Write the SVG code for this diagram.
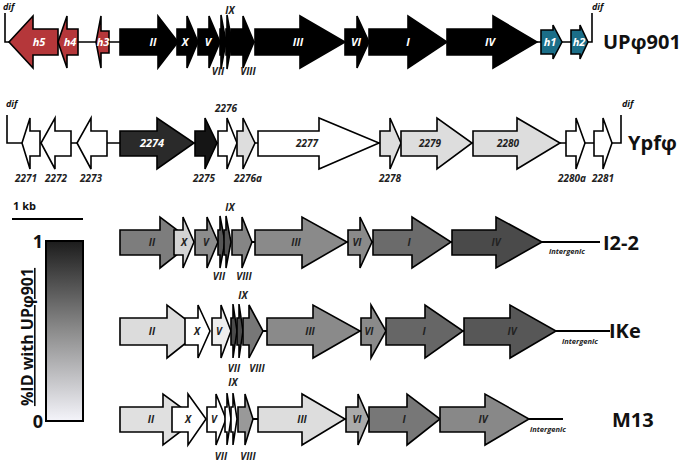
<svg xmlns="http://www.w3.org/2000/svg" width="680" height="463" viewBox="0 0 680 463">
<defs>
<linearGradient id="idgrad" x1="0" y1="0" x2="0" y2="1">
<stop offset="0" stop-color="#1c1c1c"/>
<stop offset="0.5" stop-color="#8c8c8c"/>
<stop offset="1" stop-color="#f4f4fa"/>
</linearGradient>
<style>
.g{stroke:#000;stroke-width:1.6;stroke-linejoin:miter}
.ln{stroke:#000;stroke-width:1.6;fill:none}
.ln2{stroke:#000;stroke-width:2;fill:none}
.lw{font-family:"Open Sans","Liberation Sans",sans-serif;font-weight:bold;font-style:italic;font-size:11px;fill:#fff;text-anchor:middle}
.ld{font-family:"Open Sans","Liberation Sans",sans-serif;font-weight:bold;font-style:italic;font-size:10px;fill:#222;text-anchor:middle}
.ls{font-family:"Open Sans","Liberation Sans",sans-serif;font-weight:bold;font-style:italic;font-size:7.5px;fill:#222}
.dif{font-family:"Open Sans","Liberation Sans",sans-serif;font-weight:bold;font-style:italic;font-size:9px;fill:#111}
.tt{font-family:"Open Sans","Liberation Sans",sans-serif;font-weight:bold;font-size:20px;fill:#111}
.red{fill:#b5373a}.blk{fill:#000}.teal{fill:#1b6e88}
</style>
</defs>
<rect width="680" height="463" fill="#fff"/>

<g id="connectors">
<polyline class="ln" points="5,13 5,42 592,42 592,13"/>
<polyline class="ln" points="7,115 7,143 621,143 621,115"/>
<line class="ln2" x1="248" y1="242" x2="600" y2="242"/>
<line class="ln2" x1="258" y1="331" x2="610" y2="331"/>
<line class="ln2" x1="250" y1="419" x2="563" y2="419"/>
</g>

<!-- UPphi901 -->
<g id="up-h5"><path class="g red" d="M58,29 L33,29 L33,16 L9,42 L33,68 L33,55 L58,55 Z"/><text class="lw" x="39" y="46">h5</text></g>
<g id="up-h4"><path class="g red" d="M78,29 L67,29 L67,16 L58,42 L67,68 L67,55 L78,55 Z"/><text class="lw" x="70" y="46">h4</text></g>
<g id="up-h3"><path class="g red" d="M109,31 L101,31 L101,16 L96,42 L101,68 L101,53 L109,53 Z"/><text class="lw" x="103" y="46">h3</text></g>
<g id="up-II"><path class="g blk" d="M120,29 L158,29 L158,16 L178,42 L158,68 L158,55 L120,55 Z"/><text class="lw" x="153" y="46">II</text></g>
<g id="up-X"><path class="g blk" d="M177,29 L187,29 L187,16 L198,42 L187,68 L187,55 L177,55 Z"/><text class="lw" x="185" y="46">X</text></g>
<g id="up-V"><path class="g blk" d="M198,29 L209,29 L209,16 L220,42 L209,68 L209,55 L198,55 Z"/><text class="lw" x="208" y="46">V</text></g>
<g id="up-VII"><path class="g blk" d="M220,29 L221,29 L221,15 L226,42 L221,69 L221,55 L220,55 Z"/><text class="ld" x="218" y="75">VII</text></g>
<g id="up-IX"><path class="g blk" d="M226,29 L227,29 L227,15 L232,42 L227,69 L227,55 L226,55 Z"/><text class="ld" x="230" y="14">IX</text></g>
<g id="up-VIII"><path class="g blk" d="M231,29 L243,29 L243,16 L254,42 L243,68 L243,55 L231,55 Z"/><text class="ld" x="248" y="75">VIII</text></g>
<g id="up-III"><path class="g blk" d="M255,29 L300,29 L300,16 L345,42 L300,68 L300,55 L255,55 Z"/><text class="lw" x="298" y="46">III</text></g>
<g id="up-VI"><path class="g blk" d="M345,29 L357,29 L357,16 L369,42 L357,68 L357,55 L345,55 Z"/><text class="lw" x="356" y="46">VI</text></g>
<g id="up-I"><path class="g blk" d="M369,29 L408,29 L408,16 L447,42 L408,68 L408,55 L369,55 Z"/><text class="lw" x="408" y="46">I</text></g>
<g id="up-IV"><path class="g blk" d="M447,29 L493,29 L493,16 L537,42 L493,68 L493,55 L447,55 Z"/><text class="lw" x="490" y="46">IV</text></g>
<g id="up-h1"><path class="g teal" d="M541,30 L553,30 L553,25 L562,42 L553,59 L553,54 L541,54 Z"/><text class="lw" x="550" y="46">h1</text></g>
<g id="up-h2"><path class="g teal" d="M571,30 L580,30 L580,25 L588,42 L580,59 L580,54 L571,54 Z"/><text class="lw" x="579" y="46">h2</text></g>
<text class="dif" x="3" y="10">dif</text>
<text class="dif" x="592" y="10">dif</text>
<text class="tt" x="603" y="49" font-size="19">UPφ901</text>

<!-- Ypfphi -->
<g id="y-2271"><path class="g" fill="#fff" d="M40,131 L30,131 L30,118 L22,143 L30,169 L30,156 L40,156 Z"/><text class="ld" x="26" y="182">2271</text></g>
<g id="y-2272"><path class="g" fill="#fff" d="M71,131 L55,131 L55,118 L41,143 L55,169 L55,156 L71,156 Z"/><text class="ld" x="56" y="182">2272</text></g>
<g id="y-2273"><path class="g" fill="#fff" d="M107,131 L91,131 L91,118 L77,143 L91,169 L91,156 L107,156 Z"/><text class="ld" x="91" y="182">2273</text></g>
<g id="y-2274"><path class="g" fill="#2a2a2a" d="M120,131 L157,131 L157,118 L194,143 L157,169 L157,156 L120,156 Z"/><text class="lw" x="152" y="147">2274</text></g>
<g id="y-2275"><path class="g" fill="#151515" d="M195,131 L205,131 L205,118 L217,143 L205,169 L205,156 L195,156 Z"/><text class="ld" x="204" y="182">2275</text></g>
<g id="y-2276"><path class="g" fill="#fff" d="M218,131 L227,131 L227,118 L237,143 L227,169 L227,156 L218,156 Z"/><text class="ld" x="226" y="112">2276</text></g>
<g id="y-2276a"><path class="g" fill="#ddd" d="M237,131 L243,131 L243,118 L255,143 L243,169 L243,156 L237,156 Z"/><text class="ld" x="248" y="182">2276a</text></g>
<g id="y-2277"><path class="g" fill="#fff" d="M258,131 L319,131 L319,118 L379,143 L319,169 L319,156 L258,156 Z"/><text class="ld" x="307" y="147" font-size="11">2277</text></g>
<g id="y-2278"><path class="g" fill="#ddd" d="M380,131 L390,131 L390,118 L401,143 L390,169 L390,156 L380,156 Z"/><text class="ld" x="390" y="182">2278</text></g>
<g id="y-2279"><path class="g" fill="#ddd" d="M401,131 L437,131 L437,118 L472,143 L437,169 L437,156 L401,156 Z"/><text class="ld" x="430" y="147" font-size="11">2279</text></g>
<g id="y-2280"><path class="g" fill="#ddd" d="M473,131 L517,131 L517,118 L560,143 L517,169 L517,156 L473,156 Z"/><text class="ld" x="508" y="147" font-size="11">2280</text></g>
<g id="y-2280a"><path class="g" fill="#fff" d="M566,131 L576,131 L576,118 L585,143 L576,169 L576,156 L566,156 Z"/><text class="ld" x="572" y="182">2280a</text></g>
<g id="y-2281"><path class="g" fill="#fff" d="M594,131 L603,131 L603,118 L612,143 L603,169 L603,156 L594,156 Z"/><text class="ld" x="603" y="182">2281</text></g>
<text class="dif" x="6" y="107">dif</text>
<text class="dif" x="622" y="107">dif</text>
<text class="tt" x="628" y="150">Ypfφ</text>

<!-- scale and legend -->
<g id="scale">
<text x="13" y="210" font-family="Open Sans, Liberation Sans, sans-serif" font-weight="bold" font-size="11" fill="#111">1 kb</text>
<line x1="12" y1="219" x2="83" y2="219" stroke="#000" stroke-width="2"/>
</g>
<g id="legend">
<rect x="46" y="241" width="37" height="180" fill="url(#idgrad)" stroke="#000" stroke-width="2"/>
<text x="43" y="248" text-anchor="end" font-family="Open Sans, Liberation Sans, sans-serif" font-weight="bold" font-size="18" fill="#111">1</text>
<text x="43" y="428" text-anchor="end" font-family="Open Sans, Liberation Sans, sans-serif" font-weight="bold" font-size="18" fill="#111">0</text>
<text transform="translate(33,337) rotate(-90)" text-anchor="middle" text-decoration="underline" font-family="Open Sans, Liberation Sans, sans-serif" font-weight="bold" font-size="16" fill="#111">%ID with UPφ901</text>
</g>

<!-- I2-2 -->
<g id="i22-II"><path class="g" fill="#7d7d7d" d="M120,230 L160,230 L160,217 L193,242 L160,268 L160,255 L120,255 Z"/><text class="ld" x="152" y="246">II</text></g>
<g id="i22-X"><path class="g" fill="#d3d3d3" d="M174,230 L183,230 L183,217 L194,242 L183,268 L183,255 L174,255 Z"/><text class="ld" x="184" y="246">X</text></g>
<g id="i22-V"><path class="g" fill="#8c8c8c" d="M195,230 L207,230 L207,217 L218,242 L207,268 L207,255 L195,255 Z"/><text class="ld" x="206" y="246">V</text></g>
<g id="i22-VII"><path class="g" fill="#555" d="M218,230 L220,230 L220,216 L225,242 L220,268 L220,255 L218,255 Z"/><text class="ld" x="219" y="280">VII</text></g>
<g id="i22-IX"><path class="g" fill="#555" d="M224,230 L226,230 L226,216 L231,242 L226,268 L226,255 L224,255 Z"/><text class="ld" x="230" y="211">IX</text></g>
<g id="i22-VIII"><path class="g" fill="#858585" d="M232,230 L242,230 L242,217 L252,242 L242,268 L242,255 L232,255 Z"/><text class="ld" x="244" y="280">VIII</text></g>
<g id="i22-III"><path class="g" fill="#8a8a8a" d="M255,230 L302,230 L302,217 L347,242 L302,268 L302,255 L255,255 Z"/><text class="ld" x="296" y="246">III</text></g>
<g id="i22-VI"><path class="g" fill="#8a8a8a" d="M348,230 L360,230 L360,217 L372,242 L360,268 L360,255 L348,255 Z"/><text class="ld" x="357" y="246">VI</text></g>
<g id="i22-I"><path class="g" fill="#6b6b6b" d="M373,230 L412,230 L412,217 L451,242 L412,268 L412,255 L373,255 Z"/><text class="ld" x="409" y="246">I</text></g>
<g id="i22-IV"><path class="g" fill="#4a4a4a" d="M452,230 L496,230 L496,217 L542,242 L496,268 L496,255 L452,255 Z"/><text class="ld" x="496" y="246">IV</text></g>
<text class="ls" x="549" y="254">intergenic</text>
<text class="tt" x="603" y="250">I2-2</text>

<!-- IKe -->
<g id="ike-II"><path class="g" fill="#dcdcdc" d="M120,318 L167,318 L167,305 L201,331 L167,358 L167,345 L120,345 Z"/><text class="ld" x="152" y="335">II</text></g>
<g id="ike-X"><path class="g" fill="#fff" d="M185,318 L198,318 L198,305 L210,331 L198,358 L198,345 L185,345 Z"/><text class="ld" x="197" y="335">X</text></g>
<g id="ike-V"><path class="g" fill="#eee" d="M212,318 L221,318 L221,305 L231,331 L221,358 L221,345 L212,345 Z"/><text class="ld" x="219" y="335">V</text></g>
<g id="ike-VII"><path class="g" fill="#4a4a4a" d="M231,318 L233,318 L233,304 L237,331 L233,358 L233,345 L231,345 Z"/><text class="ld" x="234" y="372">VII</text></g>
<g id="ike-IX"><path class="g" fill="#4a4a4a" d="M237,318 L239,318 L239,304 L243,331 L239,358 L239,345 L237,345 Z"/><text class="ld" x="243" y="299">IX</text></g>
<g id="ike-VIII"><path class="g" fill="#777" d="M243,318 L249,318 L249,305 L263,331 L249,358 L249,345 L243,345 Z"/><text class="ld" x="257" y="372">VIII</text></g>
<g id="ike-III"><path class="g" fill="#8a8a8a" d="M267,318 L313,318 L313,305 L360,331 L313,358 L313,345 L267,345 Z"/><text class="ld" x="310" y="335">III</text></g>
<g id="ike-VI"><path class="g" fill="#8a8a8a" d="M361,318 L371,318 L371,305 L386,331 L371,358 L371,345 L361,345 Z"/><text class="ld" x="369" y="335">VI</text></g>
<g id="ike-I"><path class="g" fill="#666" d="M386,318 L425,318 L425,305 L463,331 L425,358 L425,345 L386,345 Z"/><text class="ld" x="424" y="335">I</text></g>
<g id="ike-IV"><path class="g" fill="#575757" d="M464,318 L510,318 L510,305 L556,331 L510,358 L510,345 L464,345 Z"/><text class="ld" x="512" y="335">IV</text></g>
<text class="ls" x="562" y="344">intergenic</text>
<text class="tt" x="609" y="338">IKe</text>

<!-- M13 -->
<g id="m13-II"><path class="g" fill="#e0e0e0" d="M120,407 L163,407 L163,394 L197,419 L163,445 L163,432 L120,432 Z"/><text class="ld" x="151" y="423">II</text></g>
<g id="m13-X"><path class="g" fill="#fff" d="M172,407 L188,407 L188,394 L206,419 L188,445 L188,432 L172,432 Z"/><text class="ld" x="188" y="423">X</text></g>
<g id="m13-V"><path class="g" fill="#fff" d="M207,407 L216,407 L216,394 L226,419 L216,445 L216,432 L207,432 Z"/><text class="ld" x="214" y="423">V</text></g>
<g id="m13-VII"><path class="g" fill="#fff" d="M225,407 L227,407 L227,393 L231,419 L227,445 L227,432 L225,432 Z"/><text class="ld" x="221" y="460">VII</text></g>
<g id="m13-IX"><path class="g" fill="#fff" d="M231,407 L233,407 L233,393 L237,419 L233,445 L233,432 L231,432 Z"/><text class="ld" x="233" y="386">IX</text></g>
<g id="m13-VIII"><path class="g" fill="#999" d="M238,407 L245,407 L245,394 L253,419 L245,445 L245,432 L238,432 Z"/><text class="ld" x="248" y="460">VIII</text></g>
<g id="m13-III"><path class="g" fill="#ddd" d="M258,407 L302,407 L302,394 L345,419 L302,445 L302,432 L258,432 Z"/><text class="ld" x="302" y="423">III</text></g>
<g id="m13-VI"><path class="g" fill="#aaa" d="M346,407 L358,407 L358,394 L369,419 L358,445 L358,432 L346,432 Z"/><text class="ld" x="357" y="423">VI</text></g>
<g id="m13-I"><path class="g" fill="#777" d="M369,407 L407,407 L407,394 L440,419 L407,445 L407,432 L369,432 Z"/><text class="ld" x="404" y="423">I</text></g>
<g id="m13-IV"><path class="g" fill="#888" d="M440,407 L485,407 L485,394 L529,419 L485,445 L485,432 L440,432 Z"/><text class="ld" x="483" y="423">IV</text></g>
<text class="ls" x="530" y="432">intergenic</text>
<text class="tt" x="612" y="427">M13</text>
</svg>
